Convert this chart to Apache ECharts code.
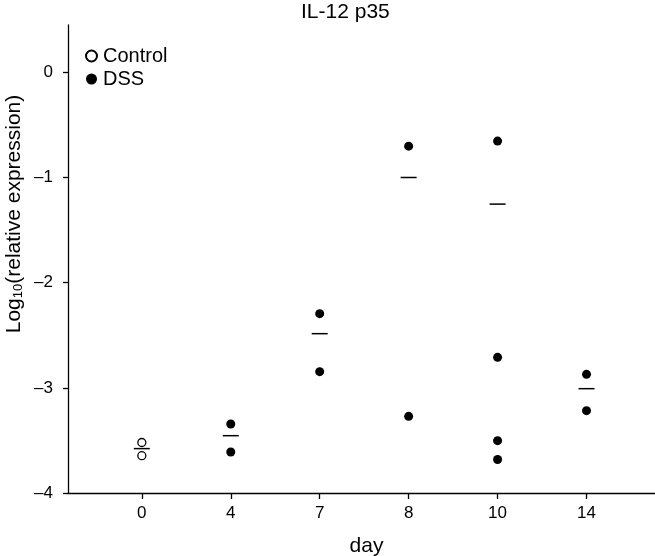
<!DOCTYPE html>
<html>
<head>
<meta charset="utf-8">
<script src="https://cdn.jsdelivr.net/npm/echarts@6/dist/echarts.min.js"></script>
<style>html,body{margin:0;padding:0;background:#fff}#c{width:655px;height:556px}</style>
</head>
<body>
<div id="c"></div>
<script>
var dayLabels = ['0', '4', '7', '8', '10', '14'];
var controlDay0 = [-3.52, -3.645];
var dss = [
  [],
  [-3.344, -3.61],
  [-2.295, -2.846],
  [-0.702, -3.271],
  [-0.654, -2.71, -3.502, -3.682],
  [-2.872, -3.217]
];
var means = [-3.578, -3.455, -2.485, -1.0, -1.253, -3.008];
var yTicks = [-4, -3, -2, -1, 0];

var FONT = '"Liberation Sans", Arial, sans-serif';
var idx = dayLabels.map(function (d, i) { return i; });

var controlData = controlDay0.map(function (v) { return [0, v]; });
var dssData = [];
dss.forEach(function (arr, i) { arr.forEach(function (v) { dssData.push([i, v]); }); });
var meanData = means.map(function (v, i) { return [i, v]; });

function fmtNum(v) { return v < 0 ? '\u2013' + Math.abs(v) : String(v); }

var chart = echarts.init(document.getElementById('c'), null, { renderer: 'canvas' });
chart.setOption({
  animation: false,
  backgroundColor: '#fff',
  textStyle: { fontFamily: FONT },
  title: {
    text: 'IL-12 p35', left: 296, top: -3,
    textStyle: { fontFamily: FONT, fontSize: 21, fontWeight: 'normal', color: '#000' }
  },
  legend: {
    data: ['Control', 'DSS'], orient: 'vertical', left: 80, top: 41,
    itemWidth: 11, itemHeight: 11, itemGap: 3, icon: 'circle',
    textStyle: { fontFamily: FONT, fontSize: 20, color: '#000', padding: [0, 0, 0, 1] }
  },
  grid: { left: 68, right: 0, top: 25, bottom: 63, containLabel: false, outerBoundsMode: 'none' },
  xAxis: {
    type: 'value', min: -0.83, max: 5.77,
    name: 'day', nameLocation: 'middle', nameGap: 43,
    nameTextStyle: { fontFamily: FONT, fontSize: 21, color: '#000', padding: [0, 0, 0, 10] },
    axisLine: { show: true, onZero: false, lineStyle: { color: '#000', width: 1.3 } },
    axisTick: { show: true, length: 6, customValues: idx, lineStyle: { color: '#000', width: 1.3 } },
    axisLabel: { customValues: idx, margin: 12, fontFamily: FONT, fontSize: 17, color: '#000',
      formatter: function (v) { return dayLabels[Math.round(v)]; } },
    splitLine: { show: false }
  },
  yAxis: {
    type: 'value', min: -4, max: 0.45, interval: 1,
    axisLine: { show: true, onZero: false, lineStyle: { color: '#000', width: 1.3 } },
    axisTick: { show: true, length: 5, customValues: yTicks, lineStyle: { color: '#000', width: 1.3 } },
    axisLabel: { customValues: yTicks, margin: 15, fontFamily: FONT, fontSize: 17, color: '#000', formatter: fmtNum },
    splitLine: { show: false }
  },
  graphic: [{
    type: 'text', x: 14, y: 214, rotation: Math.PI / 2,
    style: {
      text: '{a|Log}{s|10}{a|(relative expression)}',
      align: 'center', verticalAlign: 'middle', fill: '#000',
      rich: {
        a: { fontFamily: FONT, fontSize: 21, fill: '#000' },
        s: { fontFamily: FONT, fontSize: 13, fill: '#000', verticalAlign: 'bottom', padding: [9, 0, 0, 0] }
      }
    }
  }],
  series: [
    { name: 'Control', type: 'scatter', data: controlData, symbol: 'circle', symbolSize: 8,
      itemStyle: { color: '#fff', borderColor: '#000', borderWidth: 1.3, opacity: 1 }, z: 3 },
    { name: 'DSS', type: 'scatter', data: dssData, symbol: 'circle', symbolSize: 9,
      itemStyle: { color: '#000', opacity: 1 }, z: 3 },
    { name: 'Mean', type: 'scatter', data: meanData, symbol: 'rect', symbolSize: [16, 1.5],
      itemStyle: { color: '#000', opacity: 1 }, z: 2 }
  ]
});
</script>
</body>
</html>
